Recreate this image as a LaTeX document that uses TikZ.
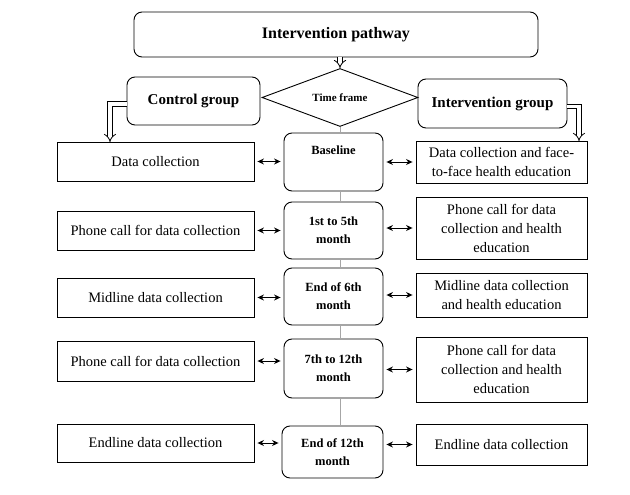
\documentclass[tikz,border=0pt]{standalone}
\usepackage{fontspec}
\setmainfont{Liberation Serif}
\usetikzlibrary{positioning,arrows.meta,shapes.geometric}

\tikzset{
  base/.style={draw,line width=0.9pt,align=center,inner sep=2pt,font=\fontsize{14.5}{19}\selectfont},
  leftbox/.style={base,minimum width=197pt,minimum height=39pt},
  rightbox/.style={base,minimum width=171pt},
  timebox/.style={base,rounded corners=8pt,minimum width=99pt,font=\fontsize{12.5}{18}\selectfont\bfseries},
  groupbox/.style={base,rounded corners=8pt,font=\fontsize{15}{18}\selectfont\bfseries},
  pipe/.style={double,double distance=3.5pt,line width=0.8pt,-{Implies}},
  link/.style={{Stealth[length=6.5pt,width=6pt]}-{Stealth[length=6.5pt,width=6pt]},line width=1pt,shorten <=3pt,shorten >=3pt},
  spine/.style={draw=gray!70,line width=1pt}
}

\begin{document}
\begin{tikzpicture}[x=1pt,y=-1pt]
\useasboundingbox (0,0) rectangle (630,495);

% head, time frame and the two groups
\node[groupbox,minimum width=404pt,minimum height=45pt,font=\fontsize{16}{18}\selectfont\bfseries] (path) at (336,34.5) {Intervention pathway};
\node[draw,diamond,line width=0.9pt,minimum width=156pt,minimum height=58pt,inner sep=0pt,aspect=2.7,font=\fontsize{11}{12}\selectfont\bfseries] (frame) at (340,97.5) {Time frame};
\node[groupbox,minimum width=133pt,minimum height=48pt] (ctrl) at (193.5,101) {Control group};
\node[groupbox,minimum width=149pt,minimum height=49pt] (intv) at (492.5,103.5) {Intervention group};

% time points
\node[timebox,minimum height=58pt,text height=21pt,text depth=37pt,inner ysep=0pt] (m1) at (333.5,162) {Baseline};
\node[timebox,minimum height=57pt] (m2) at (333.5,230.5) {1st to 5th\\month};
\node[timebox,minimum height=57pt] (m3) at (333.5,296.5) {End of 6th\\month};
\node[timebox,minimum height=59pt] (m4) at (333.5,368.5) {7th to 12th\\month};
\node[timebox,minimum width=101pt,minimum height=52pt] (m5) at (332.5,452) {End of 12th\\month};

% control arm
\node[leftbox] (l1) at (155.5,161.5) {Data collection};
\node[leftbox] (l2) at (155.5,230.5) {Phone call for data collection};
\node[leftbox] (l3) at (155.5,297.5) {Midline data collection};
\node[leftbox,minimum height=40pt] (l4) at (155.5,361) {Phone call for data collection};
\node[leftbox,minimum height=38pt] (l5) at (155.5,443) {Endline data collection};

% intervention arm
\node[rightbox,minimum height=42pt] (r1) at (501.5,162) {Data collection and face-\\to-face health education};
\node[rightbox,minimum height=62pt] (r2) at (501.5,228) {Phone call for data\\collection and health\\education};
\node[rightbox,minimum height=44pt] (r3) at (501.5,295) {Midline data collection\\and health education};
\node[rightbox,minimum height=65pt] (r4) at (501.5,369.5) {Phone call for data\\collection and health\\education};
\node[rightbox,minimum height=41pt] (r5) at (501.5,444.5) {Endline data collection};

\coordinate (cdrop) at (110,142);
\coordinate (idrop) at (579,141);

\draw[pipe] (frame.north |- path.south) -- (frame.north);
\draw[pipe] ([yshift=-3pt]ctrl.west) -| (cdrop);
\draw[pipe] ([yshift=-3pt]intv.east) -| (idrop);

\foreach \a/\b in {frame/m1,m1/m2,m2/m3,m3/m4,m4/m5}
  \draw[spine] (\a.south -| frame.south) -- (\b.north -| frame.south);

\foreach \i in {1,...,5}{
  \draw[link] (l\i.east) -- (l\i.east -| m\i.west);
  \draw[link] (m\i.east |- r\i.west) -- (r\i.west);
}
\end{tikzpicture}
\end{document}
